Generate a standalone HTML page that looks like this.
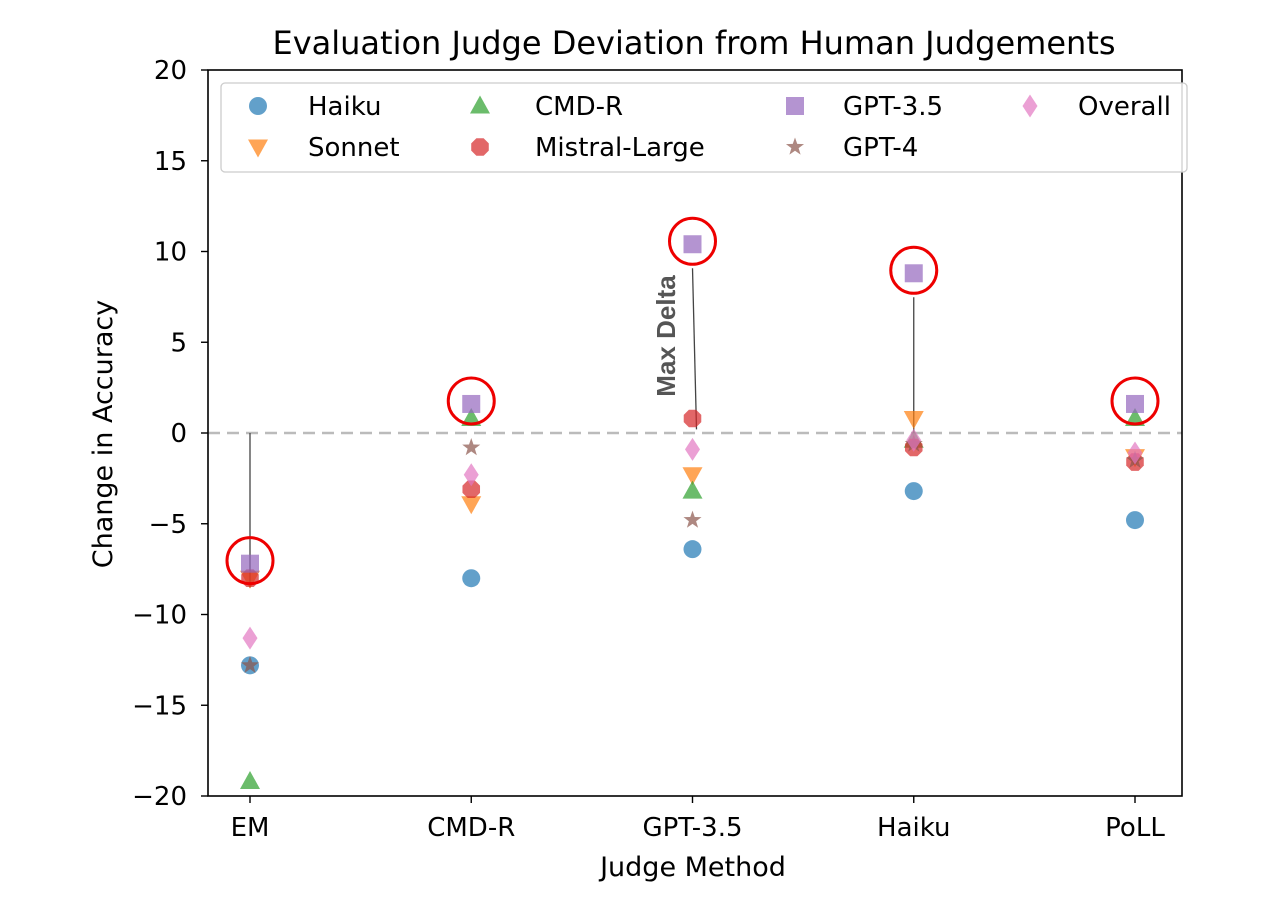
<!DOCTYPE html>
<html><head><meta charset="utf-8"><style>
body{margin:0;background:#fff;}
svg{display:block;font-family:"DejaVu Sans","Liberation Sans",sans-serif;}
</style></head><body>
<svg id="chart" width="1268" height="914" viewBox="0 0 1268 914">
<text x="694" y="54" font-size="32" text-anchor="middle" fill="#000">Evaluation Judge Deviation from Human Judgements</text>
<g id="plot"></g>
</svg>
<script>
const categories=["EM","CMD-R","GPT-3.5","Haiku","PoLL"];
const seriesNames=["Haiku","Sonnet","CMD-R","Mistral-Large","GPT-3.5","GPT-4","Overall"];
const haikuVals=[-12.8,-8.0,-6.4,-3.2,-4.8];
const sonnetVals=[-8.0,-3.9,-2.3,0.8,-1.3];
const cmdrVals=[-19.2,0.8,-3.2,-0.4,0.8];
const mistralVals=[-8.0,-3.1,0.8,-0.8,-1.6];
const gpt35Vals=[-7.2,1.6,10.4,8.8,1.6];
const gpt4Vals=[-12.8,-0.8,-4.8,-0.6,-1.5];
const overallVals=[-11.3,-2.3,-0.9,-0.4,-1.1];
const yTicks=[-20,-15,-10,-5,0,5,10,15,20];
const yTickLabels=["\u221220","\u221215","\u221210","\u22125","0","5","10","15","20"];

const NS="http://www.w3.org/2000/svg";
const L=208,R=1182,T=70,B=796;
const yMin=-20,yMax=20;
function ys(v){return B-(v-yMin)/(yMax-yMin)*(B-T);}
function xs(i){return 250+i*221.25;}
const g=document.getElementById('plot');
function el(tag,attrs,parent){const e=document.createElementNS(NS,tag);for(const k in attrs)e.setAttribute(k,attrs[k]);(parent||g).appendChild(e);return e;}

const zl=el('line',{x1:L,x2:R,y1:ys(0),y2:ys(0),stroke:'#bbb','stroke-width':2.5,'stroke-dasharray':'12,7'});



const colors=["#1f77b4","#ff7f0e","#2ca02c","#d62728","#9467bd","#8c564b","#e377c2"];
const shapes=["circle","tri-down","tri-up","octagon","square","star","diamond"];
function marker(shape,cx,cy,color,parent){
  let e;
  if(shape==="circle")e=el('circle',{cx,cy,r:9},parent);
  else if(shape==="square")e=el('rect',{x:cx-9,y:cy-9,width:18,height:18},parent);
  else{
    let pts=[];
    if(shape==="tri-up")pts=[[0,-10.5],[10,7.5],[-10,7.5]];
    else if(shape==="tri-down")pts=[[0,10.5],[10,-7.5],[-10,-7.5]];
    else if(shape==="diamond")pts=[[0,-11.5],[7.5,0],[0,11.5],[-7.5,0]];
    else if(shape==="octagon"){for(let k=0;k<8;k++){const a=Math.PI/8+k*Math.PI/4;pts.push([9.5*Math.cos(a),9.5*Math.sin(a)]);}}
    else if(shape==="star"){for(let k=0;k<10;k++){const a=-Math.PI/2+k*Math.PI/5;const r=k%2?3.8:9.5;pts.push([r*Math.cos(a),r*Math.sin(a)]);}}
    e=el('polygon',{points:pts.map(p=>(cx+p[0])+','+(cy+p[1])).join(' ')},parent);
  }
  e.setAttribute('fill',color);e.setAttribute('fill-opacity',0.7);
  return e;
}

const allVals=[haikuVals,sonnetVals,cmdrVals,mistralVals,gpt35Vals,gpt4Vals,overallVals];

const lineTargets=[[0,0],[2,0.2],[3,0]];
lineTargets.forEach(([ci,v])=>{
  const ln=el('line',{x1:xs(ci)+(ci===2?4:0),y1:ys(v),x2:xs(ci),y2:ys(gpt35Vals[ci])+24,stroke:'#444','stroke-width':1.3});
  
  
});

seriesNames.forEach((n,si)=>{
  const sg=el('g',{});
  
  
  allVals[si].forEach((v,ci)=>{
    const m=marker(shapes[si],xs(ci),ys(v),colors[si],sg);
    
    
  });
});

gpt35Vals.forEach((v,ci)=>{
  const c=el('circle',{cx:xs(ci),cy:ys(v)-3,r:23,fill:'none',stroke:'#e00','stroke-width':3});
  
  
});

const md=el('text',{x:0,y:0,'font-size':26,'font-weight':'bold',fill:'#555','text-anchor':'middle',transform:'translate(675,336) rotate(-90)',"font-family":"Liberation Sans, sans-serif"});
md.textContent='Max Delta';



const fr=el('rect',{x:L,y:T,width:R-L,height:B-T,fill:'none',stroke:'#000','stroke-width':1.6});



yTicks.forEach((t,i)=>{
  const tk=el('line',{x1:L-7,x2:L,y1:ys(t),y2:ys(t),stroke:'#000','stroke-width':1.4});
  
  
  const tx=el('text',{x:L-21,y:ys(t)+9,'font-size':26,'text-anchor':'end',fill:'#000'});
  tx.textContent=yTickLabels[i];
  
  
});
categories.forEach((c,i)=>{
  const tk=el('line',{x1:xs(i),x2:xs(i),y1:B,y2:B+7,stroke:'#000','stroke-width':1.4});
  
  
  const tx=el('text',{x:xs(i),y:B+40,'font-size':26,'text-anchor':'middle',fill:'#000'});
  tx.textContent=c;
  
  
});
const xl=el('text',{x:693,y:876,'font-size':27,'text-anchor':'middle',fill:'#000'});
xl.textContent='Judge Method';


const yl=el('text',{x:0,y:0,'font-size':27,'text-anchor':'middle',fill:'#000',transform:'translate(112,434) rotate(-90)'});
yl.textContent='Change in Accuracy';



const lg=el('g',{});


el('rect',{x:221,y:83,width:966,height:89,rx:4,fill:'#fff','fill-opacity':0.85,stroke:'#ccc','stroke-width':1.3},lg);
const colX=[258,480,795,1030];
const colTX=[308,535,843,1078];
seriesNames.forEach((n,si)=>{
  const col=Math.floor(si/2),row=si%2;
  const cy=106+row*41;
  const eg=el('g',{},lg);
  
  
  marker(shapes[si],colX[col],cy,colors[si],eg);
  const t=el('text',{x:colTX[col],y:cy+9,'font-size':26,fill:'#000'},eg);
  t.textContent=n;
});
</script>
</body></html>
